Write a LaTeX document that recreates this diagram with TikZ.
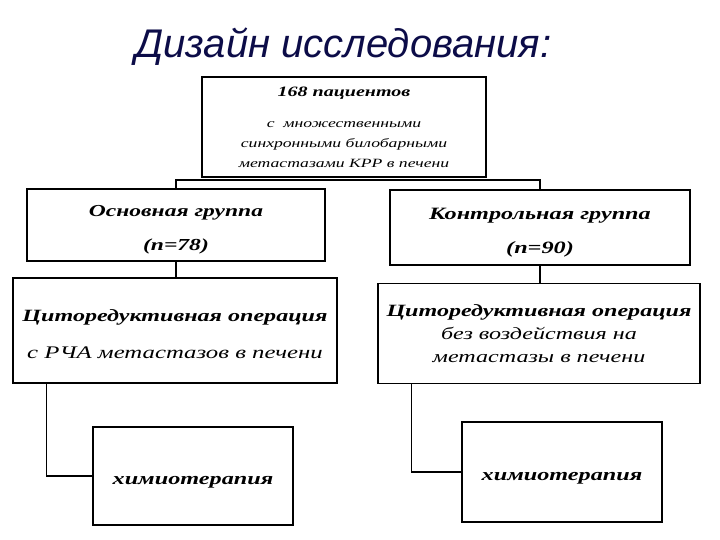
\documentclass[tikz,border=0pt]{standalone}
\usepackage{fontspec}
\setmainfont{Liberation Serif}[FakeStretch=1.4]
\newfontfamily\titlefont{Liberation Sans}
\usetikzlibrary{positioning}
\definecolor{titleblue}{HTML}{0C0C48}

\tikzset{
  box/.style={draw=black, line width=1.5pt, fill=white, align=center, inner sep=0pt, font=\itshape},
  link/.style={draw=black, line width=1.5pt},
}

\begin{document}
\begin{tikzpicture}[x=1pt,y=-1pt]
\useasboundingbox (0,0) rectangle (720,540);
% title
\node[font=\titlefont\itshape\fontsize{40}{44}\selectfont, text=titleblue, anchor=base west, inner sep=0pt] (title) at (135,58) {Дизайн исследования:};
% all patients
\node[box, minimum width=284pt, minimum height=100pt, font=\itshape\fontsize{12.6}{20}\selectfont] (total) at (344,127)
  {{\bfseries\fontsize{14.3}{20}\selectfont 168 пациентов}\\[11pt] с\ \ множественными\\ синхронными билобарными\\ метастазами КРР в печени};
% groups
\node[box, minimum width=298pt, minimum height=72pt, text height=56pt, text depth=4pt, font=\bfseries\itshape\fontsize{16.8}{34}\selectfont] (main) at (176,225) {Основная группа\\ (n=78)};
\node[box, minimum width=300pt, minimum height=75pt, text height=57pt, text depth=4pt, font=\bfseries\itshape\fontsize{17.3}{35}\selectfont] (control) at (540,227.5) {Контрольная группа\\ (n=90)};
% operations
\node[box, minimum width=324pt, minimum height=105pt, text height=60pt, text depth=4pt, font=\itshape\fontsize{17.7}{37}\selectfont] (mainop) at (175,330.5)
  {{\bfseries\fontsize{17.2}{37}\selectfont Циторедуктивная операция}\\ с РЧА метастазов в печени};
\node[box, minimum width=322pt, minimum height=100pt, font=\itshape\fontsize{17.2}{23}\selectfont] (controlop) at (539,333.5)
  {{\bfseries Циторедуктивная операция}\\ без воздействия на\\ метастазы в печени};
% chemotherapy
\node[box, minimum width=200pt, minimum height=98pt, text height=20pt, text depth=4pt, font=\bfseries\itshape\fontsize{17.3}{20}\selectfont] (mainchemo) at (193,476) {химиотерапия};
\node[box, minimum width=200pt, minimum height=100pt, text height=20pt, text depth=4pt, font=\bfseries\itshape\fontsize{17.3}{20}\selectfont] (controlchemo) at (562,472) {химиотерапия};

\draw[link] (main.north) -- ++(0,-8) -| (control.north);
\draw[link] (main.south) -- (main.south |- mainop.north);
\draw[link] (control.south) -- (control.south |- controlop.north);
\draw[link] ([xshift=34pt]mainop.south west) |- (mainchemo.west);
\draw[link] ([xshift=34pt]controlop.south west) |- (controlchemo.west);
\end{tikzpicture}
\end{document}
